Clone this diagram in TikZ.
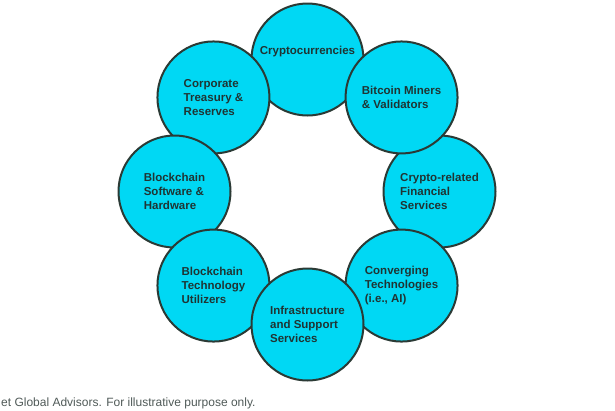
\documentclass[tikz,border=0pt]{standalone}
\usepackage{fontspec}
\setmainfont{Liberation Sans}
\usepackage{xcolor}
\usepackage{tikz}
\usetikzlibrary{positioning}
\definecolor{ringcyan}{HTML}{00D8F4}
\definecolor{ringedge}{HTML}{2B3A35}
\definecolor{ringtext}{HTML}{1F3433}
\definecolor{notegray}{HTML}{505A58}
\tikzset{
    bubble/.style={
        circle,
        draw=ringedge,
        line width=2pt,
        fill=ringcyan,
        minimum size=112pt,
        inner sep=0pt,
        align=left,
        text=ringtext,
        font=\fontsize{11.5}{14}\selectfont\bfseries
    },
    footnote/.style={
        font=\fontsize{12}{14}\selectfont,
        text=notegray,
        inner sep=0pt
    }
}
\begin{document}
\begin{tikzpicture}[x=1pt, y=1pt]

\useasboundingbox (0,0) rectangle (615,-410);

% Ring centre
\coordinate (hub) at (307.5,-191.5);

% Ring of sectors (back to front)
\node[bubble, text depth=18pt] (crypto) at ([shift={(90:132)}]hub) {Cryptocurrencies};
\node[bubble] (cryptofin) at ([shift={(0:132)}]hub) {Crypto-related\\Financial\\Services};
\node[bubble] (miners) at ([shift={(45:133)}]hub) {Bitcoin Miners\\\& Validators};
\node[bubble] (treasury) at ([shift={(135:133)}]hub) {Corporate\\Treasury \&\\Reserves};
\node[bubble] (software) at ([shift={(180:133)}]hub) {Blockchain\\Software \&\\Hardware};
\node[bubble] (utilizers) at ([shift={(-135:133)}]hub) {Blockchain\\Technology\\Utilizers};
\node[bubble] (converging) at ([shift={(-45:133)}]hub) {Converging\\Technologies\\(i.e., AI)};
\node[bubble] (infra) at ([shift={(-90:133)}]hub) {Infrastructure\\and Support\\Services};

% Source line
\node[footnote, anchor=base west] (source) at (1,-406) {et Global Advisors. For illustrative purpose only.};

\end{tikzpicture}
\end{document}
